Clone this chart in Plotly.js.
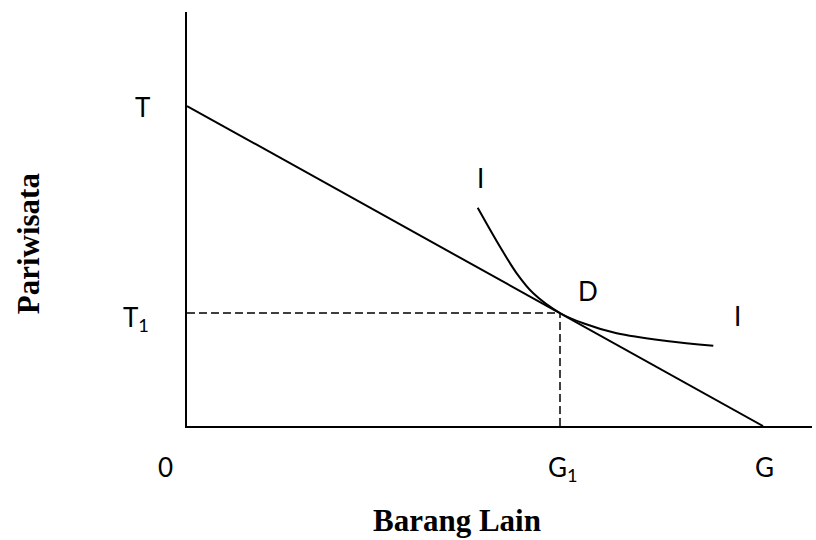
<!DOCTYPE html>
<html>
<head>
<meta charset="utf-8">
<script src="https://cdn.plot.ly/plotly-3.0.1.min.js"></script>
<style>html,body{margin:0;padding:0;background:#fff;}#chart{width:816px;height:540px;}</style>
</head>
<body>
<div id="chart"></div>
<script>
// Budget line (intercepts)
var budgetX = [0, 576];
var budgetY = [320, 0];
// Tangency point D
var pointD = [373, 113];
// Indifference curve I
var curveX = [290.7, 313, 329.7, 346.3, 373, 396.3, 429.7, 479.7, 526.3];
var curveY = [218.3, 179.3, 152.7, 132.7, 113, 102.7, 92.7, 85, 80.3];
// Point labels (in axis units)
var labelText = ["T", "T<sub>1</sub>", "0", "G<sub>1</sub>", "G", "I", "D", "I"];
var labelX = [-45, -51.5, -22, 376, 577, 293, 401, 550];
var labelY = [319, 108, -41, -42, -41, 248, 135, 110];
var xTitle = "Barang Lain";
var yTitle = "Pariwisata";

var xRange = [0, 625];
var yRange = [0, 414];

var lineStyle = {color: "#000", width: 2};
var dashStyle = {color: "#000", width: 1.5, dash: "8px,4px"};

var traces = [
  {x: budgetX, y: budgetY, mode: "lines", line: lineStyle, hoverinfo: "skip"},
  {x: curveX, y: curveY, mode: "lines", line: {color: "#000", width: 2, shape: "spline", smoothing: 1}, hoverinfo: "skip"},
  {x: [0, pointD[0]], y: [pointD[1], pointD[1]], mode: "lines", line: dashStyle, hoverinfo: "skip"},
  {x: [pointD[0], pointD[0]], y: [0, pointD[1]], mode: "lines", line: dashStyle, hoverinfo: "skip"}
];

var labelFont = {family: "Lato, 'Open Sans', sans-serif", size: 26, color: "#000"};
var titleFont = {family: "'Liberation Serif', 'Times New Roman', serif", size: 31, color: "#000"};

function toPaperX(v) { return (v - xRange[0]) / (xRange[1] - xRange[0]); }
function toPaperY(v) { return (v - yRange[0]) / (yRange[1] - yRange[0]); }

var annotations = labelText.map(function (t, i) {
  return {x: toPaperX(labelX[i]), y: toPaperY(labelY[i]), xref: "paper", yref: "paper", text: t,
          showarrow: false, font: labelFont, xanchor: "center", yanchor: "middle"};
});
annotations.push({x: 0.432, y: -0.229, xref: "paper", yref: "paper", text: "<b>" + xTitle + "</b>",
  showarrow: false, font: titleFont, xanchor: "center", yanchor: "middle"});
annotations.push({x: -0.254, y: 0.442, xref: "paper", yref: "paper", text: "<b>" + yTitle + "</b>",
  showarrow: false, font: titleFont, textangle: -90, xanchor: "center", yanchor: "middle"});

var layout = {
  width: 816, height: 540,
  margin: {l: 187, r: 4, t: 12, b: 114, pad: 0},
  paper_bgcolor: "#fff", plot_bgcolor: "#fff",
  showlegend: false,
  xaxis: {range: xRange, showline: true, linecolor: "#000", linewidth: 2, showgrid: false,
          zeroline: false, showticklabels: false, ticks: "", fixedrange: true},
  yaxis: {range: yRange, showline: true, linecolor: "#000", linewidth: 2, showgrid: false,
          zeroline: false, showticklabels: false, ticks: "", fixedrange: true},
  annotations: annotations
};

Plotly.newPlot("chart", traces, layout, {staticPlot: true, displayModeBar: false});
</script>
</body>
</html>
